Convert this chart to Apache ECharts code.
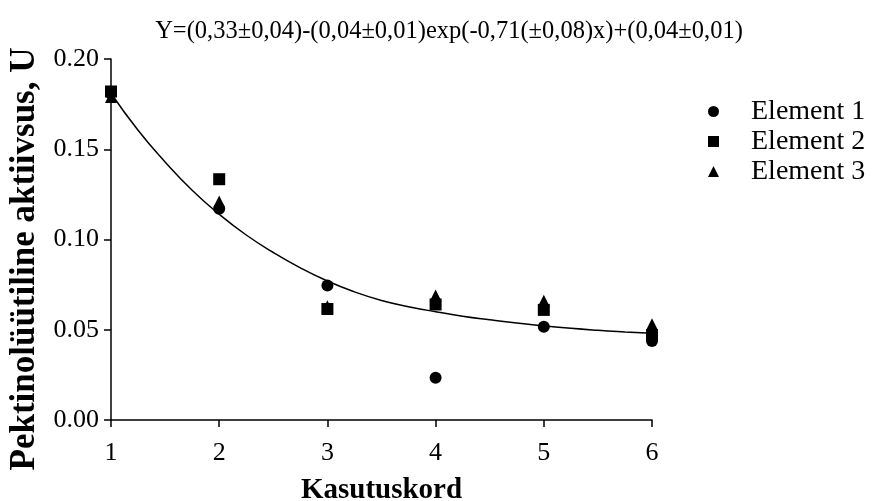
<!DOCTYPE html>
<html>
<head>
<meta charset="utf-8">
<script src="https://cdn.jsdelivr.net/npm/echarts@6/dist/echarts.min.js"></script>
<style>html,body{margin:0;padding:0;background:#fff}#c{width:874px;height:501px}</style>
</head>
<body>
<div id="c"></div>
<script>
const xValues = [1, 2, 3, 4, 5, 6];
const element1 = [0.181, 0.117, 0.0745, 0.0234, 0.0517, 0.0438];
const element2 = [0.182, 0.1334, 0.0615, 0.064, 0.061, 0.047];
const element3 = [0.179, 0.121, 0.063, 0.069, 0.066, 0.053];
const curveX = [1, 1.25, 1.5, 1.75, 2, 2.25, 2.5, 2.75, 3, 3.25, 3.5, 3.75, 4, 4.25, 4.5, 4.75, 5, 5.25, 5.5, 5.75, 6];
const curveY = [0.181, 0.1605, 0.143, 0.1273, 0.114, 0.1025, 0.0928, 0.0843, 0.077, 0.071, 0.0662, 0.0628, 0.06, 0.0575, 0.0555, 0.0537, 0.0522, 0.0508, 0.0497, 0.0488, 0.048];
const yTicks = ['0.00', '0.05', '0.10', '0.15', '0.20'];
const seriesNames = ['Element 1', 'Element 2', 'Element 3'];
const titleText = 'Y=(0,33±0,04)-(0,04±0,01)exp(-0,71(±0,08)x)+(0,04±0,01)';

const font = '"Liberation Serif", "Times New Roman", serif';
const pair = (xs, ys) => xs.map((x, i) => [x, ys[i]]);

const chart = echarts.init(document.getElementById('c'));
chart.setOption({
  animation: false,
  backgroundColor: '#fff',
  title: {
    text: titleText,
    left: 444, top: 14, textAlign: 'center',
    textStyle: { fontFamily: font, fontSize: 24.5, fontWeight: 'normal', color: '#000' }
  },
  legend: {
    orient: 'vertical',
    left: 703, top: 92,
    itemWidth: 11, itemHeight: 11, itemGap: 1,
    data: [
      { name: seriesNames[0], icon: 'circle' },
      { name: seriesNames[1], icon: 'rect' },
      { name: seriesNames[2], icon: 'triangle' }
    ],
    textStyle: { fontFamily: font, fontSize: 28, lineHeight: 29, color: '#000', padding: [0, 0, 0, 27] }
  },
  grid: { left: 111, right: 222, top: 59, bottom: 81, containLabel: false, outerBoundsMode: 'none' },
  xAxis: {
    type: 'value', min: 1, max: 6, interval: 1,
    name: 'Kasutuskord', nameLocation: 'middle', nameGap: 56,
    nameTextStyle: { fontFamily: font, fontSize: 29, fontWeight: 'bold', color: '#000' },
    axisLine: { onZero: false, lineStyle: { color: '#000', width: 1.5 } },
    axisTick: { length: 7, lineStyle: { color: '#000', width: 1.5 } },
    axisLabel: { fontFamily: font, fontSize: 26, color: '#000', margin: 20 },
    splitLine: { show: false }
  },
  yAxis: {
    type: 'value', min: 0, max: 0.2, interval: 0.05,
    name: 'Pektinolüütiline aktiivsus, U', nameLocation: 'middle', nameGap: 63,
    nameTextStyle: { fontFamily: font, fontSize: 35, fontWeight: 'bold', color: '#000', padding: [0, 39, 0, 0] },
    axisLine: { show: true, onZero: false, lineStyle: { color: '#000', width: 1.5 } },
    axisTick: { show: true, length: 7, lineStyle: { color: '#000', width: 1.5 } },
    axisLabel: { fontFamily: font, fontSize: 26, color: '#000', margin: 12,
      formatter: v => yTicks[Math.round(v / 0.05)] },
    splitLine: { show: false }
  },
  series: [
    {
      name: 'fit', type: 'line', data: pair(curveX, curveY), smooth: true,
      showSymbol: false, lineStyle: { color: '#000', width: 1.5 }, z: 1, silent: true
    },
    {
      name: seriesNames[0], type: 'scatter', symbol: 'circle', symbolSize: 12,
      data: pair(xValues, element1), itemStyle: { color: '#000', opacity: 1 }, z: 2
    },
    {
      name: seriesNames[1], type: 'scatter', symbol: 'rect', symbolSize: 12,
      data: pair(xValues, element2), itemStyle: { color: '#000', opacity: 1 }, z: 3
    },
    {
      name: seriesNames[2], type: 'scatter', symbol: 'triangle', symbolSize: 12,
      data: pair(xValues, element3), itemStyle: { color: '#000', opacity: 1 }, z: 4
    }
  ]
});
</script>
</body>
</html>
